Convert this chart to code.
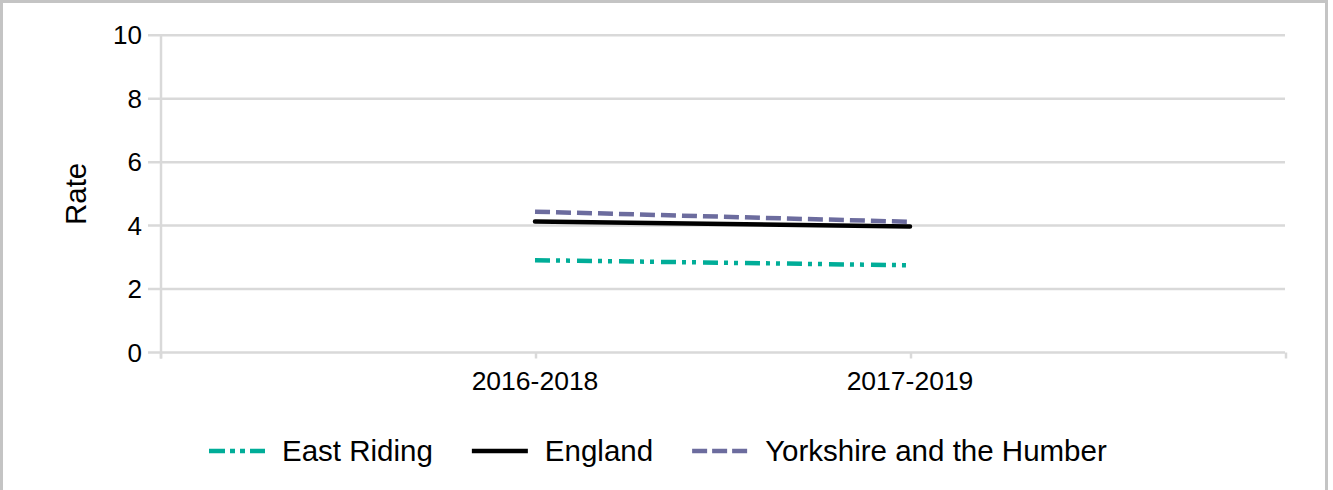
<!DOCTYPE html>
<html>
<head>
<meta charset="utf-8">
<script src="https://cdn.jsdelivr.net/npm/d3@7"></script>
<style>
  html, body { margin: 0; padding: 0; background: #fff; }
  svg { display: block; font-family: "Liberation Sans", Arial, sans-serif; }
</style>
</head>
<body>
<div id="chart"></div>
<script>
// Chart data
const categories = ["2016-2018", "2017-2019"];
const seriesNames = ["East Riding", "England", "Yorkshire and the Humber"];
const eastRiding = [2.91, 2.75];
const england = [4.13, 3.97];
const yorkshire = [4.44, 4.12];
const yTicks = [0, 2, 4, 6, 8, 10];

const width = 1333;
const height = 490;
const margin = { top: 35.3, right: 48, bottom: 137.5, left: 160 };

const series = [
  { name: seriesNames[0], values: eastRiding, color: "#00ad98", dash: "15,6,4,6,4,7" },
  { name: seriesNames[1], values: england, color: "#000000", dash: null },
  { name: seriesNames[2], values: yorkshire, color: "#6c6c9e", dash: "15,6" },
];

const svg = d3
  .select("#chart")
  .append("svg")
  .attr("width", width)
  .attr("height", height);

// Outer frame
svg
  .append("rect")
  .attr("x", 1.5)
  .attr("y", 1.5)
  .attr("width", 1325)
  .attr("height", 490)
  .attr("fill", "#fff")
  .attr("stroke", "#c4c4c4")
  .attr("stroke-width", 3);

const x = d3
  .scalePoint()
  .domain(categories)
  .range([margin.left, width - margin.right])
  .padding(1);

const y = d3
  .scaleLinear()
  .domain([0, 10])
  .range([height - margin.bottom, margin.top]);

const grid = "#d9d9d9";

// Horizontal gridlines + y ticks
const yAxis = svg.append("g");
yAxis
  .selectAll("line.grid")
  .data(yTicks)
  .join("line")
  .attr("class", "grid")
  .attr("x1", margin.left - 12)
  .attr("x2", width - margin.right)
  .attr("y1", (d) => y(d))
  .attr("y2", (d) => y(d))
  .attr("stroke", grid)
  .attr("stroke-width", 2.5);

yAxis
  .selectAll("text")
  .data(yTicks)
  .join("text")
  .attr("x", margin.left - 18)
  .attr("y", (d) => y(d))
  .attr("dy", "0.35em")
  .attr("text-anchor", "end")
  .attr("font-size", "26px")
  .attr("fill", "#000")
  .text((d) => d);

// Y axis line
svg
  .append("line")
  .attr("x1", margin.left + 1)
  .attr("x2", margin.left + 1)
  .attr("y1", y(10))
  .attr("y2", y(0) + 6)
  .attr("stroke", grid)
  .attr("stroke-width", 2.5);

// X axis ticks: ends of the range and each category
const xTickPos = [x.range()[0], ...categories.map((c) => x(c)), x.range()[1]];
svg
  .append("g")
  .selectAll("line")
  .data(xTickPos)
  .join("line")
  .attr("x1", (d) => d + 1)
  .attr("x2", (d) => d + 1)
  .attr("y1", y(0))
  .attr("y2", y(0) + 6)
  .attr("stroke", grid)
  .attr("stroke-width", 2.5);

svg
  .append("g")
  .selectAll("text")
  .data(categories)
  .join("text")
  .attr("x", (d) => x(d))
  .attr("y", y(0) + 37.5)
  .attr("text-anchor", "middle")
  .attr("font-size", "26.5px")
  .attr("fill", "#000")
  .text((d) => d);

// Y axis title
svg
  .append("text")
  .attr("transform", `translate(86,${(y(0) + y(10)) / 2}) rotate(-90)`)
  .attr("text-anchor", "middle")
  .attr("font-size", "29.5px")
  .attr("fill", "#000")
  .text("Rate");

// Lines
const line = d3
  .line()
  .x((d, i) => x(categories[i]))
  .y((d) => y(d));

svg
  .append("g")
  .selectAll("path")
  .data(series)
  .join("path")
  .attr("d", (d) => line(d.values))
  .attr("fill", "none")
  .attr("stroke", (d) => d.color)
  .attr("stroke-width", 4.5)
  .attr("stroke-dasharray", (d) => d.dash)
  .attr("stroke-linecap", (d) => (d.dash ? "butt" : "round"));

// Legend
const legendY = 451;
const sampleW = 56;
const legend = svg.append("g");
const items = legend
  .selectAll("g")
  .data(series)
  .join("g");

items
  .append("line")
  .attr("x1", 0)
  .attr("x2", sampleW)
  .attr("y1", legendY)
  .attr("y2", legendY)
  .attr("stroke", (d) => d.color)
  .attr("stroke-width", 4.5)
  .attr("stroke-dasharray", (d) => (d.name === seriesNames[0] ? "16,5,5,5,5,5,15" : d.dash ? "15,5" : null));

items
  .append("text")
  .attr("x", sampleW + 17)
  .attr("y", legendY)
  .attr("dy", "0.35em")
  .attr("font-size", "29.5px")
  .attr("fill", "#000")
  .text((d) => d.name);

// position legend entries side by side
let offset = 209;
const gap = 39;
const positions = [];
items.each(function () {
  const w = this.getBBox().width;
  positions.push(offset);
  offset += w + gap;
});
items.attr("transform", (d, i) => `translate(${positions[i]},0)`);
</script>
</body>
</html>
